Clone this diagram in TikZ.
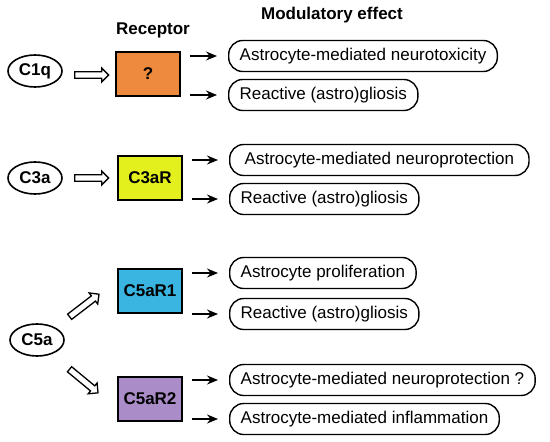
\documentclass[tikz,border=0pt]{standalone}
\usepackage{fontspec}
\setmainfont{Liberation Sans}
\usetikzlibrary{shapes.geometric,shapes.arrows,arrows.meta}
\definecolor{corange}{RGB}{238,138,62}
\definecolor{cyellow}{RGB}{228,240,30}
\definecolor{ccyan}{RGB}{58,180,224}
\definecolor{cpurple}{RGB}{170,140,200}
\tikzset{
  lig/.style={ellipse, draw, line width=1.6pt, minimum width=54pt, minimum height=32pt, inner sep=0pt, font=\fontsize{17}{20}\selectfont\bfseries},
  rec/.style={rectangle, draw, line width=1.6pt, minimum width=64pt, minimum height=44pt, inner sep=0pt, font=\fontsize{17}{20}\selectfont\bfseries},
  effbox/.style={rectangle, rounded corners=14pt, draw, line width=1.4pt, minimum height=31pt, inner xsep=11pt, inner ysep=0pt, anchor=west, font=\fontsize{17}{20}\selectfont},
  oarrow/.style={single arrow, draw, fill=white, line width=1.3pt, minimum width=14pt, single arrow head extend=3.5pt, inner sep=2.5pt, single arrow tip angle=90},
  eff/.style={-{Stealth[length=11pt,width=9pt]}, line width=1.5pt, shorten <=9pt, shorten >=11pt},
  hdr/.style={font=\fontsize{17}{20}\selectfont\bfseries}
}
\begin{document}
\begin{tikzpicture}[x=1pt,y=-1pt]
\useasboundingbox (0,0) rectangle (550,442);
\node[hdr] (hm) at (332,15) {Modulatory effect};
\node[hdr] (hr) at (153,30) {Receptor};
% ligands
\node[lig] (c1q) at (35,71) {C1q};
\node[lig] (c3a) at (35,178) {C3a};
\node[lig] (c5a) at (37,340) {C5a};
% receptors
\node[rec, fill=corange] (r1) at (148,74) {?};
\node[rec, fill=cyellow] (r2) at (150,178) {C3aR};
\node[rec, fill=ccyan] (r3) at (150,291) {C5aR1};
\node[rec, fill=cpurple] (r4) at (150,399) {C5aR2};
% open arrows
\node[oarrow, minimum height=34pt] (o1) at (90,75) {};
\node[oarrow, minimum height=34pt] (o2) at (90,178) {};
\node[oarrow, minimum height=37pt, rotate=37.5] (o3) at (83,306.5) {};
\node[oarrow, minimum height=37pt, rotate=-39.6] (o4) at (82.5,380) {};
% effects
\node[effbox] (e1a) at (228,56) {Astrocyte-mediated neurotoxicity};
\node[effbox] (e1b) at (228,95) {Reactive (astro)gliosis};
\node[effbox, inner xsep=15pt] (e2a) at (229,160) {Astrocyte-mediated neuroprotection};
\node[effbox] (e2b) at (229,199) {Reactive (astro)gliosis};
\node[effbox] (e3a) at (229,273) {Astrocyte proliferation};
\node[effbox] (e3b) at (229,314) {Reactive (astro)gliosis};
\node[effbox] (e4a) at (229,380) {Astrocyte-mediated neuroprotection ?};
\node[effbox] (e4b) at (229,419) {Astrocyte-mediated inflammation};
% effect arrows
\draw[eff] (r1.east |- e1a) -- (e1a);
\draw[eff] (r1.east |- e1b) -- (e1b);
\draw[eff] (r2.east |- e2a) -- (e2a);
\draw[eff] (r2.east |- e2b) -- (e2b);
\draw[eff] (r3.east |- e3a) -- (e3a);
\draw[eff] (r3.east |- e3b) -- (e3b);
\draw[eff] (r4.east |- e4a) -- (e4a);
\draw[eff] (r4.east |- e4b) -- (e4b);
\end{tikzpicture}
\end{document}
